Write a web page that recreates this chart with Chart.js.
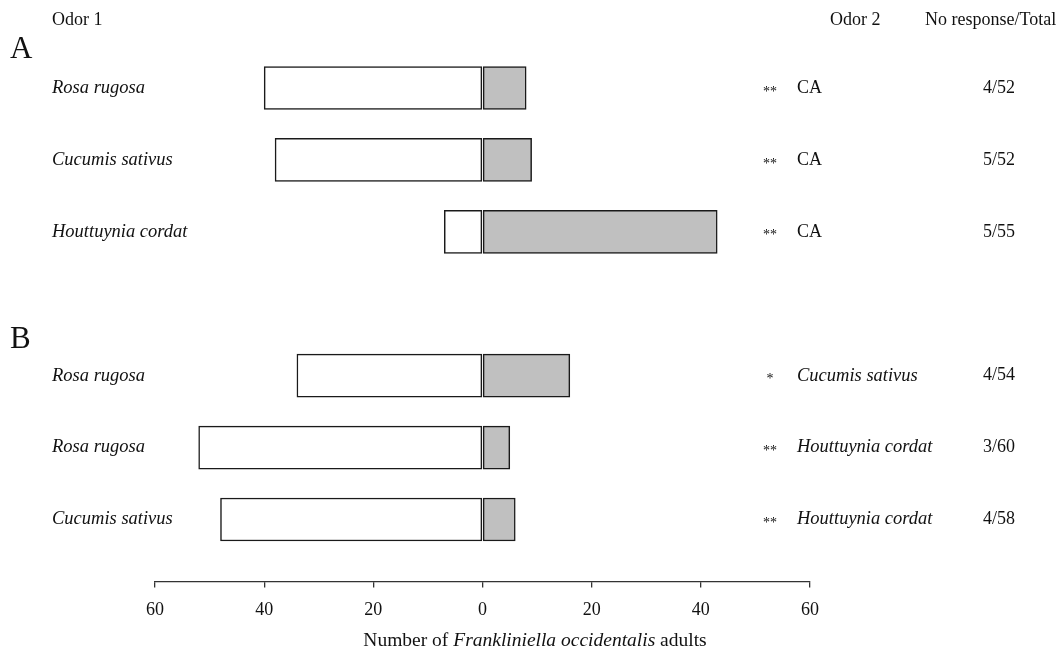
<!DOCTYPE html>
<html>
<head>
<meta charset="utf-8">
<script src="https://cdn.jsdelivr.net/npm/chart.js@4/dist/chart.umd.min.js"></script>
<style>
  html, body { margin: 0; padding: 0; background: #fff; }
  #wrap { width: 1060px; height: 652px; position: relative; }
</style>
</head>
<body>
<div id="wrap"><canvas id="chart"></canvas></div>
<script>
// data
const groups = ['A', 'A', 'A', 'B', 'B', 'B'];
const odor1Names = ['Rosa rugosa', 'Cucumis sativus', 'Houttuynia cordat', 'Rosa rugosa', 'Rosa rugosa', 'Cucumis sativus'];
const odor2Names = ['CA', 'CA', 'CA', 'Cucumis sativus', 'Houttuynia cordat', 'Houttuynia cordat'];
const odor1Counts = [40, 38, 7, 34, 52, 48];
const odor2Counts = [8, 9, 43, 16, 5, 6];
const signif = ['**', '**', '**', '*', '**', '**'];
const noResponse = ['4/52', '5/52', '5/55', '4/54', '3/60', '4/58'];
const xTicks = [-60, -40, -20, 0, 20, 40, 60];

const SERIF = '"Liberation Serif", "Times New Roman", serif';

// one empty row between panel A and panel B
const rows = groups.map((g, i) => i + (g === 'B' ? 1 : 0));

const textPlugin = {
  id: 'texts',
  afterDraw(chart) {
    const ctx = chart.ctx;
    const y = chart.scales.y;
    ctx.save();
    ctx.fillStyle = '#111';
    ctx.textBaseline = 'middle';

    // headers
    ctx.font = '18px ' + SERIF;
    ctx.textAlign = 'left';
    ctx.fillText('Odor 1', 52, 20);
    ctx.fillText('Odor 2', 830, 20);
    ctx.fillText('No response/Total', 925, 20);

    // panel letters
    ctx.font = '31px ' + SERIF;
    ctx.textBaseline = 'alphabetic';
    ctx.fillText('A', 10, 58);
    ctx.fillText('B', 10, 348);
    ctx.textBaseline = 'middle';

    rows.forEach((r, i) => {
      const py = y.getPixelForValue(r);
      ctx.textAlign = 'left';
      ctx.font = 'italic 18.5px ' + SERIF;
      ctx.fillText(odor1Names[i], 52, py);

      ctx.font = '14px ' + SERIF;
      ctx.textAlign = 'center';
      ctx.fillText(signif[i], 770, py + 4);

      ctx.textAlign = 'left';
      ctx.font = (odor2Names[i] === 'CA' ? '18px ' : 'italic 18.5px ') + SERIF;
      ctx.fillText(odor2Names[i], 797, py);

      ctx.textAlign = 'center';
      ctx.font = '18px ' + SERIF;
      ctx.fillText(noResponse[i], 999, py);
    });

    // x axis title with italic species name
    const parts = [
      ['Number of ', ''],
      ['Frankliniella occidentalis', 'italic '],
      [' adults', '']
    ];
    let total = 0;
    parts.forEach(p => { ctx.font = p[1] + '19.5px ' + SERIF; total += ctx.measureText(p[0]).width; });
    let tx = 535 - total / 2;
    ctx.textAlign = 'left';
    parts.forEach(p => {
      ctx.font = p[1] + '19.5px ' + SERIF;
      ctx.fillText(p[0], tx, 641);
      tx += ctx.measureText(p[0]).width;
    });
    ctx.restore();
  }
};

new Chart(document.getElementById('chart'), {
  type: 'bar',
  data: {
    datasets: [
      {
        label: 'Odor 1',
        data: rows.map((r, i) => ({ x: -odor1Counts[i], y: r })),
        backgroundColor: '#ffffff',
        borderColor: '#1a1a1a',
        borderWidth: 1.5,
        borderSkipped: false,
        barThickness: 43
      },
      {
        label: 'Odor 2',
        data: rows.map((r, i) => ({ x: odor2Counts[i], y: r })),
        backgroundColor: '#c0c0c0',
        borderColor: '#1a1a1a',
        borderWidth: 1.5,
        borderSkipped: false,
        barThickness: 43
      }
    ]
  },
  options: {
    indexAxis: 'y',
    responsive: true,
    maintainAspectRatio: false,
    animation: false,
    layout: { padding: { left: 155, right: 250, top: 52, bottom: 19 } },
    plugins: {
      legend: { display: false },
      tooltip: { enabled: false }
    },
    scales: {
      x: {
        type: 'linear',
        stacked: true,
        min: -60,
        max: 60,
        afterBuildTicks: (scale) => { scale.ticks = xTicks.map(v => ({ value: v })); },
        ticks: {
          callback: (v) => Math.abs(v),
          color: '#111',
          padding: 12,
          font: { family: SERIF, size: 18 }
        },
        grid: { drawOnChartArea: false, drawTicks: true, tickLength: 6, color: '#333', lineWidth: 1.3 },
        border: { display: true, color: '#333', width: 1.3 }
      },
      y: {
        type: 'linear',
        stacked: true,
        reverse: true,
        offset: false,
        min: -0.5,
        max: 6.86,
        display: false
      }
    }
  },
  plugins: [textPlugin]
});
</script>
</body>
</html>
